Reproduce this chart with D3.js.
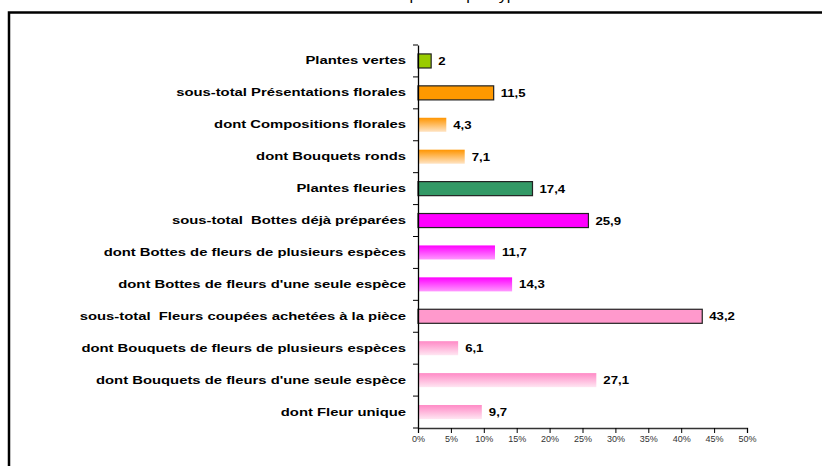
<!DOCTYPE html>
<html>
<head>
<meta charset="utf-8">
<script src="https://cdn.jsdelivr.net/npm/d3@7"></script>
<style>
body { margin: 0; background: #fff; }
svg { display: block; font-family: Arial, "Liberation Sans", sans-serif; }
</style>
</head>
<body>
<svg id="chart" width="822" height="466"></svg>
<script>
// categories, top to bottom
var categories = [
	"Plantes vertes",
	"sous-total Présentations florales",
	"dont Compositions florales",
	"dont Bouquets ronds",
	"Plantes fleuries",
	"sous-total  Bottes déjà préparées",
	"dont Bottes de fleurs de plusieurs espèces",
	"dont Bottes de fleurs d'une seule espèce",
	"sous-total  Fleurs coupées achetées à la pièce",
	"dont Bouquets de fleurs de plusieurs espèces",
	"dont Bouquets de fleurs d'une seule espèce",
	"dont Fleur unique"
];
var values = [2, 11.5, 4.3, 7.1, 17.4, 25.9, 11.7, 14.3, 43.2, 6.1, 27.1, 9.7];
// fill style of each bar: solid colour or gradient id
var fills = ["#99cc00", "#ff9900", "url(#gOrange)", "url(#gOrange)", "#339966", "#ff00ff",
	"url(#gMagenta)", "url(#gMagenta)", "#ff99cc", "url(#gPink)", "url(#gPink)", "url(#gPink)"];
var outlined = [true, true, false, false, true, true, false, false, true, false, false, false];
var xTicks = [0, 5, 10, 15, 20, 25, 30, 35, 40, 45, 50];
var title = "Montants dépensés par types de ventes";

var stretch = 1.35; // the picture's text is drawn wide

var svg = d3.select("#chart");
var defs = svg.append("defs");
function grad(id, top, bottom) {
	var g = defs.append("linearGradient").attr("id", id)
		.attr("x1", 0).attr("y1", 0).attr("x2", 0).attr("y2", 1);
	g.append("stop").attr("offset", "0%").attr("stop-color", top);
	g.append("stop").attr("offset", "100%").attr("stop-color", bottom);
}
grad("gOrange", "#ff9500", "#ffe4c4");
grad("gMagenta", "#ff00ff", "#ff99ff");
grad("gPink", "#ff8ac6", "#ffe6f2");

// frame (runs off the right and bottom)
svg.append("rect")
	.attr("x", 9).attr("y", 12.5)
	.attr("width", 840).attr("height", 480)
	.attr("fill", "none").attr("stroke", "#000").attr("stroke-width", 2.5);

// title, cut off at the top like in the picture
svg.append("text")
	.attr("transform", "translate(464,0) scale(" + stretch + ",1)")
	.attr("text-anchor", "middle")
	.attr("font-size", 12)
	.attr("fill", "#000")
	.text(title);

var x = d3.scaleLinear().domain([0, 50]).range([418, 747]);
var y = d3.scaleBand().domain(categories).range([45, 428]).paddingInner(0.56).paddingOuter(0.28);

// bars
svg.append("g").selectAll("rect")
	.data(values)
	.join("rect")
	.attr("x", x(0))
	.attr("y", function(d, i) { return y(categories[i]); })
	.attr("width", function(d) { return x(d) - x(0); })
	.attr("height", y.bandwidth())
	.attr("fill", function(d, i) { return fills[i]; })
	.attr("stroke", function(d, i) { return outlined[i] ? "#222" : "none"; })
	.attr("stroke-width", 1.2);

// value labels
svg.append("g").selectAll("text")
	.data(values)
	.join("text")
	.attr("transform", function(d, i) {
		return "translate(" + (x(d) + 7) + "," + (y(categories[i]) + y.bandwidth() / 2) + ") scale(1.2,1)";
	})
	.attr("dy", "0.36em")
	.attr("font-size", 11)
	.attr("font-weight", "bold")
	.attr("fill", "#000")
	.text(function(d) { return String(d).replace(".", ","); });

// y axis
var yAxis = svg.append("g")
	.attr("transform", "translate(" + x(0) + ",0)")
	.call(d3.axisLeft(y).tickSize(0).tickPadding(12));
yAxis.select(".domain").attr("stroke", "#000").attr("stroke-width", 1.3);
yAxis.selectAll("text")
	.attr("x", -12 / stretch)
	.attr("transform", "scale(" + stretch + ",1)")
	.attr("font-size", 11).attr("font-weight", "bold")
	.attr("fill", "#000").attr("font-family", "Arial, 'Liberation Sans', sans-serif")
	.style("white-space", "pre");
// category separators
var sepY = d3.range(categories.length + 1).map(function(i) { return 45 + i * (383 / categories.length); });
svg.append("g").selectAll("line")
	.data(sepY)
	.join("line")
	.attr("x1", x(0) - 5).attr("x2", x(0))
	.attr("y1", function(d) { return d; }).attr("y2", function(d) { return d; })
	.attr("stroke", "#000").attr("stroke-width", 1);

// x axis
var xAxis = svg.append("g")
	.attr("transform", "translate(0,428)")
	.call(d3.axisBottom(x).tickValues(xTicks).tickSize(5).tickSizeOuter(5)
		.tickFormat(function(d) { return d + "%"; }));
xAxis.select(".domain").attr("stroke", "#333").attr("stroke-width", 1.3);
xAxis.selectAll("line").attr("stroke", "#000");
xAxis.selectAll("text").attr("font-size", 9).attr("fill", "#333")
	.attr("font-family", "Arial, 'Liberation Sans', sans-serif");
</script>
</body>
</html>
